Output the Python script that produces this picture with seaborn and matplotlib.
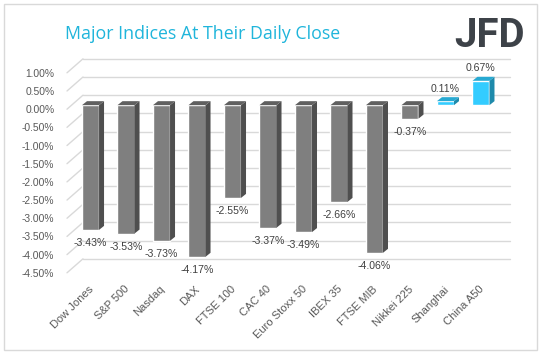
import matplotlib
matplotlib.use('Agg')
import matplotlib.pyplot as plt
import seaborn as sns
from matplotlib.patches import Polygon, Rectangle
from matplotlib.lines import Line2D
from matplotlib.transforms import IdentityTransform, ScaledTranslation

# data
indices = ['Dow Jones', 'S&P 500', 'Nasdaq', 'DAX', 'FTSE 100', 'CAC 40',
           'Euro Stoxx 50', 'IBEX 35', 'FTSE MIB', 'Nikkei 225', 'Shanghai', 'China A50']
changes = [-3.43, -3.53, -3.73, -4.17, -2.55, -3.37, -3.49, -2.66, -4.06, -0.37, 0.11, 0.67]
y_ticks = [1.0, 0.5, 0.0, -0.5, -1.0, -1.5, -2.0, -2.5, -3.0, -3.5, -4.0, -4.5]

sns.set_theme(style='white')
plt.rcParams['font.family'] = ['Liberation Sans', 'DejaVu Sans']

W, H = 543, 356
fig = plt.figure(figsize=(W / 100, H / 100), dpi=100)
fig.patch.set_facecolor('white')
ax = fig.add_axes([71 / W, 87.2 / H, 427 / W, 200 / H])
ax.set_facecolor('none')

front_cols = ['#7f7f7f' if v < 0 else '#33ccff' for v in changes]
sns.barplot(x=indices, y=changes, hue=indices, palette=front_cols, legend=False,
            width=0.48, saturation=1, ax=ax, zorder=2)

xl, xr = -0.55, 11.48
ax.set_xlim(xl, xr)
ax.set_ylim(-4.5, 1.0)
ax.set_yticks(y_ticks)
ax.set_yticklabels([f'{t:.2f}%' for t in y_ticks])
ax.set_xlabel('')
ax.set_ylabel('')
ax.grid(False)
for s in ax.spines.values():
    s.set_visible(False)
ax.tick_params(axis='y', length=0, pad=12, labelsize=7.4, colors='#595959')
ax.tick_params(axis='x', length=0, pad=11, labelsize=8, colors='#595959')
plt.setp(ax.get_xticklabels(), rotation=45, ha='right', rotation_mode='anchor')
for lab in ax.get_yticklabels():
    lab.set_transform(lab.get_transform() + ScaledTranslation(0, -4 / 100, fig.dpi_scale_trans))
for lab in ax.get_xticklabels():
    lab.set_transform(lab.get_transform() + ScaledTranslation(-2 / 100, 0, fig.dpi_scale_trans))

# back wall gridlines + left wall slants (pseudo 3D)
td = ax.transData
ident = IdentityTransform()
for t in y_ticks:
    (x0, y0), (x1, _) = td.transform([(xl, t), (xr, t)])
    ax.add_line(Line2D([x0 + 12, x1 + 12], [y0 + 10, y0 + 10], transform=ident,
                       color='#d9d9d9', lw=1, zorder=0, clip_on=False))
    ax.add_line(Line2D([x0 - 4, x0 + 12], [y0 - 4, y0 + 10], transform=ident,
                       color='#d9d9d9', lw=1, zorder=0, clip_on=False))

# bar depth faces
dx, dy = 5, 4
for p, v in zip(ax.patches, changes):
    top = max(p.get_y(), p.get_y() + p.get_height())
    bot = min(p.get_y(), p.get_y() + p.get_height())
    (bl, bt), (br, bb) = td.transform([(p.get_x(), top), (p.get_x() + p.get_width(), bot)])
    side_c = '#4f4f4f' if v < 0 else '#1e8aab'
    top_c = '#606060' if v < 0 else '#27a9d2'
    ax.add_patch(Polygon([(br, bb), (br, bt), (br + dx, bt + dy), (br + dx, bb + dy)],
                         closed=True, transform=ident, fc=side_c, ec='none', zorder=2, clip_on=False))
    ax.add_patch(Polygon([(bl, bt), (br, bt), (br + dx, bt + dy), (bl + dx, bt + dy)],
                         closed=True, transform=ident, fc=top_c, ec='none', zorder=2, clip_on=False))
    cx = p.get_x() + p.get_width() / 2
    ax.annotate(f'{v:.2f}%', (cx, v), xytext=(0, -9.5 if v < 0 else 9),
                textcoords='offset points', ha='center', va='center',
                fontsize=7.6, color='#404040', annotation_clip=False)

# title, logo, border
fig.text(65 / W, 1 - 39 / H, 'Major Indices At Their Daily Close', fontsize=12.8,
         color='#1fb5db', family=['Open Sans', 'DejaVu Sans'], va='baseline')
fig.text(525 / W, 1 - 47 / H, 'JFD', ha='right', va='baseline', fontsize=29,
         fontweight='bold', family=['Roboto', 'Liberation Sans'], color='#3d4248')
fig.patches.append(Rectangle((4 / W, 6 / H), 533 / W, 346 / H, transform=fig.transFigure,
                             fill=False, ec='#d9d9d9', lw=1))

fig.savefig('out.png', dpi=100)
